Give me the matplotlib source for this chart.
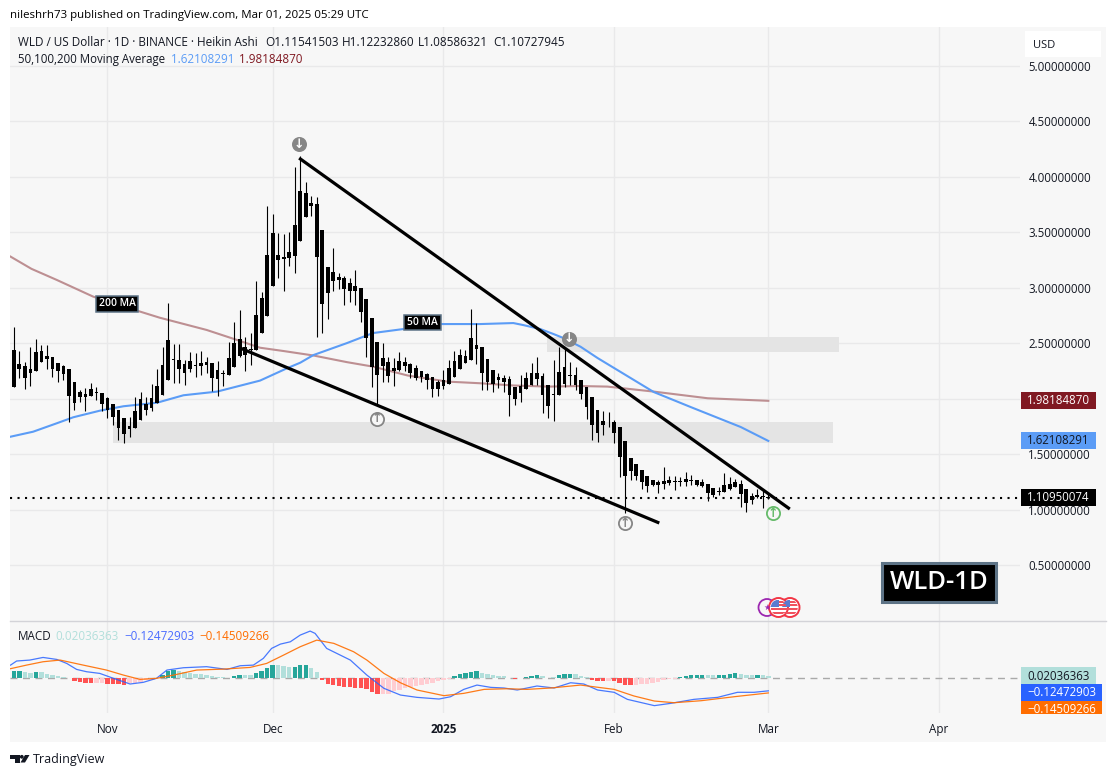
import numpy as np
import matplotlib
matplotlib.use('Agg')
import matplotlib.pyplot as plt
from matplotlib.patches import Rectangle, Circle, Polygon
from matplotlib.transforms import Affine2D

plt.rcParams['font.family'] = ['Open Sans', 'DejaVu Sans']

# days counted from 1 Nov 2024, first candle is 15 Oct
days = np.arange(-17, 121)

highs = [2.649,2.43,2.328,2.463,2.535,2.484,2.484,2.379,2.325,2.304,
         2.268,2.148,2.079,2.094,2.139,2.109,2.055,2.013,1.953,1.899,
         1.824,1.839,2.019,2.058,2.019,2.13,2.268,2.469,2.859,2.49,
         2.49,2.349,2.418,2.409,2.43,2.379,2.319,2.34,2.259,2.508,
         2.688,2.799,2.553,2.589,3.06,2.958,3.735,3.663,3.489,3.483,
         3.504,4.083,4.185,3.954,3.825,3.819,3.519,3.189,3.36,3.129,
         3.108,3.084,3.159,2.994,2.898,2.724,2.511,2.499,2.379,2.364,
         2.418,2.379,2.319,2.304,2.247,2.229,2.193,2.169,2.259,2.349,
         2.433,2.445,2.439,2.808,2.685,2.463,2.355,2.259,2.229,2.214,
         2.208,2.109,2.214,2.244,2.319,2.373,2.229,2.124,2.349,2.463,
         2.454,2.328,2.289,2.169,2.109,2.013,1.899,1.89,1.878,1.809,
         1.743,1.62,1.467,1.41,1.359,1.308,1.269,1.269,1.389,1.305,
         1.308,1.293,1.344,1.314,1.269,1.278,1.233,1.194,1.209,1.329,
         1.293,1.278,1.269,1.185,1.149,1.188,1.179,1.149]
tops = [2.439,2.31,2.295,2.268,2.418,2.43,2.385,2.373,2.322,2.295,
        2.268,2.148,2.061,2.043,2.088,2.061,2.049,2.007,1.953,1.899,
        1.824,1.755,1.89,1.998,1.953,2.004,2.115,2.304,2.529,2.358,
        2.349,2.313,2.34,2.304,2.319,2.328,2.319,2.259,2.229,2.364,
        2.499,2.535,2.463,2.445,2.754,2.907,3.294,3.489,3.294,3.279,
        3.321,3.564,3.87,3.849,3.759,3.753,3.519,3.189,3.138,3.099,
        3.084,3.039,3.015,2.994,2.898,2.724,2.511,2.364,2.328,2.277,
        2.34,2.334,2.313,2.277,2.247,2.223,2.193,2.154,2.169,2.277,
        2.343,2.394,2.385,2.547,2.484,2.463,2.355,2.259,2.199,2.19,
        2.178,2.109,2.115,2.184,2.229,2.229,2.205,2.124,2.043,2.238,
        2.283,2.214,2.211,2.169,2.109,2.013,1.899,1.8,1.794,1.794,
        1.743,1.62,1.467,1.41,1.359,1.308,1.269,1.248,1.26,1.269,
        1.26,1.263,1.278,1.269,1.266,1.254,1.233,1.194,1.167,1.224,
        1.233,1.254,1.233,1.185,1.125,1.134,1.125,1.119]
bottoms = [2.109,2.268,2.19,2.235,2.253,2.334,2.358,2.271,2.253,2.223,
           2.028,1.965,2.019,2.019,2.028,2.055,1.953,1.899,1.839,1.74,
           1.68,1.731,1.74,1.812,1.899,1.92,1.965,2.034,2.169,2.349,
           2.268,2.235,2.268,2.298,2.298,2.307,2.19,2.175,2.22,2.214,
           2.289,2.385,2.394,2.439,2.439,2.595,2.748,3.018,3.249,3.255,
           3.264,3.288,3.423,3.639,3.738,3.279,2.85,2.955,3.063,3.069,
           2.985,2.973,2.973,2.784,2.55,2.289,2.214,2.298,2.208,2.253,
           2.259,2.295,2.235,2.184,2.199,2.169,2.088,2.088,2.118,2.133,
           2.199,2.271,2.325,2.349,2.451,2.235,2.154,2.133,2.169,2.151,
           2.037,2.001,2.055,2.085,2.124,2.178,2.034,1.938,2.037,2.034,
           2.13,2.208,2.124,2.043,1.923,1.764,1.695,1.764,1.788,1.695,
           1.479,1.308,1.353,1.308,1.254,1.215,1.224,1.224,1.233,1.239,
           1.254,1.254,1.248,1.263,1.224,1.218,1.155,1.134,1.161,1.164,
           1.188,1.209,1.143,1.059,1.089,1.113,1.119,1.11]
lows = [2.109,2.184,2.091,2.118,2.253,2.334,2.268,2.199,2.154,2.169,
        1.794,1.899,1.974,1.89,2.028,1.989,1.89,1.83,1.764,1.629,
        1.599,1.659,1.74,1.812,1.854,1.89,1.965,2.034,2.169,2.139,
        2.139,2.124,2.244,2.199,2.214,2.229,2.07,2.028,2.118,2.214,
        2.289,2.379,2.253,2.304,2.439,2.595,2.748,3.018,3.084,2.973,
        3.195,3.135,3.423,3.639,3.645,2.559,2.589,2.718,2.973,2.988,
        2.844,2.874,2.844,2.694,2.379,2.109,1.944,2.154,2.148,2.118,
        2.253,2.253,2.184,2.169,2.154,2.088,2.019,2.028,2.088,2.133,
        2.199,2.271,2.325,2.349,2.313,2.079,2.079,2.064,2.094,2.064,
        1.848,1.944,1.974,2.085,2.124,2.124,1.869,1.83,1.803,2.034,
        2.109,2.124,2.079,1.995,1.818,1.629,1.614,1.674,1.749,1.605,
        1.299,0.975,1.269,1.269,1.188,1.164,1.218,1.155,1.185,1.224,
        1.179,1.218,1.218,1.224,1.215,1.209,1.083,1.119,1.134,1.164,
        1.179,1.203,1.029,0.984,1.053,1.104,1.02,1.095]

ma50_days = [-17.6,-13.5,-9.2,-6.2,-1.4,2.9,9,13.8,19.9,27.7,32.6,35,37.4,43.5,48.2,53.7,
             60.5,67.7,73.7,75.5,78.6,81,82.8,85.9,89,93.2,99.2,105.9,115,120]
ma50 = [1.659,1.704,1.78,1.834,1.893,1.933,1.965,2.032,2.065,2.164,2.275,2.325,2.394,2.502,2.592,2.628,
        2.673,2.673,2.682,2.664,2.628,2.583,2.547,2.469,2.367,2.241,2.061,1.926,1.746,1.621]
ma200_days = [-17.6,-13.8,-9.2,-2.6,5.6,9.5,18,22.9,27.7,32,37.4,43.5,48.2,54.5,61.7,67.7,
              73.7,80,85.9,90.8,99.2,109,120]
ma200 = [3.28,3.17,3.07,2.92,2.79,2.73,2.62,2.54,2.46,2.43,2.39,2.33,2.29,2.21,2.155,2.14,
         2.12,2.11,2.115,2.11,2.065,2.005,1.982]

macd_days = [-17.6,-16.5,-14.1,-11.7,-9.2,-7.4,-5.6,-3.8,-1.4,1.1,4.1,6.5,8.9,10.8,13.8,18,21.7,
             24.1,26.5,28.3,29.8,31.4,33.2,35,36.8,37.7,39.8,44.1,47.1,50.2,53.2,56.2,60.2,62.3,
             64.7,67.1,69.6,72,74.4,78,81.1,84.1,86.5,89,92,94.4,99.3,102.3,106.5,110.8,114.4,117.4,120]
macd = [.12,.159,.168,.193,.174,.136,.079,.057,.041,-.006,-.06,-.044,-.006,.073,.095,.105,.079,
        .114,.12,.184,.279,.32,.342,.406,.444,.422,.279,.168,.025,-.101,-.165,-.187,-.203,-.181,
        -.111,-.07,-.092,-.098,-.117,-.079,-.098,-.048,-.06,-.117,-.139,-.206,-.266,-.244,-.206,-.187,-.139,-.139,-.125]
signal_days = [-17.6,-14.7,-11.7,-8.6,-4.4,-.2,2.9,5.9,8.9,12,16.2,21.1,25.9,28.9,32,35,38,41.1,
               44.7,47.1,50.2,53.2,56.2,61.1,64.7,68.4,72.6,76.2,80.5,85.9,92,95.6,99.3,102.9,107.8,113.8,120]
signal = [.086,.12,.152,.168,.12,.073,.025,-.016,-.006,.025,.073,.082,.098,.136,.216,.295,.358,.327,
          .247,.168,.041,-.048,-.117,-.171,-.149,-.111,-.105,-.111,-.098,-.07,-.111,-.174,-.222,-.238,-.219,-.181,-.145]
hist = [.063,.063,.054,.048,.057,.054,.038,.022,.013,.006,
        -.006,-.032,-.044,-.048,-.051,-.051,-.051,-.057,-.057,-.063,
        -.067,-.051,-.051,-.044,-.025,-.019,-.006,.025,.063,.076,
        .063,.054,.041,.032,.035,.029,.016,.006,.003,-.003,
        .013,.025,.025,.025,.048,.063,.089,.12,.12,.111,
        .101,.101,.12,.12,.095,.054,-.019,-.063,-.07,-.079,
        -.086,-.092,-.095,-.101,-.111,-.136,-.159,-.152,-.152,-.127,
        -.12,-.101,-.086,-.079,-.07,-.057,-.048,-.032,-.019,-.01,
        .016,.032,.044,.054,.063,.041,.032,.022,.016,.013,
        -.003,-.016,-.006,.006,.016,.025,.013,-.006,.003,.025,
        .035,.035,.032,.019,.003,-.022,-.032,-.032,-.032,-.035,
        -.051,-.067,-.067,-.067,-.063,-.06,-.051,-.038,-.025,-.016,
        -.01,.003,.013,.022,.025,.025,.022,.022,.022,.029,
        .035,.044,.032,.025,.025,.025,.022,.02]
hist_kind = ('DDLLDLLLLL' 'RRRRRPPRRR' 'RPPPPPPDDD' 'LLLLLLLLLR' 'DDLLDDDDLL'
             'LDDDLLRRRR' 'RRRRRRRPPP' 'PPPPPPPPPP' 'DDDDDLLLLL' 'RRPDDDLRLD'
             'DDLLLRRRPR' 'RRRPPPPPPP' 'PDDDDDLLDD' 'DDLLLDLL')
hist_colors = {'D': '#26a69a', 'L': '#b2dfdb', 'R': '#ff5252', 'P': '#ffcdd2'}

month_days = [0, 30, 61, 92, 120, 151]
month_names = ['Nov', 'Dec', '2025', 'Feb', 'Mar', 'Apr']
price_ticks = [0.5, 1, 1.5, 2, 2.5, 3, 3.5, 4, 4.5, 5]

last_price = 1.1095
upper_line_days, upper_line = [34.8, 123.9], [4.167, 1.008]
lower_line_days, lower_line = [24.1, 100.2], [2.457, 0.882]

W, H = 1116, 777
fig = plt.figure(figsize=(W / 100, H / 100), dpi=100, facecolor='white')
# top-left pixel coordinates for everything that sits outside the data
px = Affine2D().scale(1, -1).translate(0, H)


def box(x0, y0, x1, y1, color, z=5, **kw):
    r = Rectangle((x0, y0), x1 - x0, y1 - y0, transform=px, facecolor=color, zorder=z, **kw)
    fig.add_artist(r)
    return r


def label(x, y, s, color='#131722', size=8.4, ha='left', z=6, **kw):
    return fig.text(x, y + 1.5, s, transform=px, color=color, fontsize=size, ha=ha, va='center', zorder=z, **kw)


box(10, 27, 1106, 742, '#f7f7f7', z=-1, linewidth=0)

ax = fig.add_axes([10 / W, 1 - 621 / H, 1010 / W, 594 / H])
ax2 = fig.add_axes([10 / W, 1 - 713 / H, 1010 / W, 92 / H])
x0, x1 = -17.7, 165.7
for a in (ax, ax2):
    a.patch.set_visible(False)
    a.set_xlim(x0, x1)
    for s in a.spines.values():
        s.set_visible(False)
    a.set_xticks(month_days)
    a.grid(True, color='#e9e9ea', linewidth=1)
    a.set_axisbelow(True)
    a.tick_params(length=0)
    a.yaxis.tick_right()

ax.set_ylim(0, 5.347)
ax.set_yticks(price_ticks)
# the 2.0 label sits fully behind the 200 MA tag
ax.set_yticklabels(['' if v == 2 else '%.8f' % v for v in price_ticks], fontsize=8.3, color='#131722')
ax.tick_params(axis='y', pad=6)
ax.tick_params(axis='x', labelbottom=False)

ax.axhspan(1.6, 1.788, xmin=(0.94 - x0) / (x1 - x0), xmax=(131.7 - x0) / (x1 - x0), color='#e4e4e4', linewidth=0, zorder=1)
ax.axhspan(2.418, 2.553, xmin=(79.9 - x0) / (x1 - x0), xmax=(132.8 - x0) / (x1 - x0), color='#e4e4e4', linewidth=0, zorder=1)

ax.plot(ma200_days, ma200, color='#bd8f92', linewidth=1.5, zorder=2)
ax.plot(ma50_days, ma50, color='#5b9cf6', linewidth=1.5, zorder=2)

ax.vlines(days, lows, highs, color='black', linewidth=0.8, zorder=3)
ax.bar(days, np.array(tops) - np.array(bottoms), bottom=bottoms, width=0.68, color='black', linewidth=0, zorder=3)

ax.plot(upper_line_days, upper_line, color='black', linewidth=2.3, zorder=4, solid_capstyle='butt')
ax.plot(lower_line_days, lower_line, color='black', linewidth=2.3, zorder=4, solid_capstyle='butt')
ax.axhline(last_price, color='black', linewidth=1.5, linestyle=(0, (1, 2.6)), zorder=4)

# pivot markers: day, price, filled or ring, colour, arrow
pivots = [(34.8, 4.29, True, '#868686', '↓'), (83.8, 2.54, True, '#868686', '↓'),
          (48.9, 1.82, False, '#868686', '↑'), (94, 0.882, False, '#868686', '↑'),
          (120.8, 0.97, False, '#66bb6a', '↑')]
for d, v, filled, col, arrow in pivots:
    ax.plot(d, v, 'o', markersize=9.5, markeredgewidth=1.3, markeredgecolor=col,
            markerfacecolor=col if filled else '#f7f7f7', zorder=5)
    ax.text(d, v, arrow, ha='center', va='center', fontsize=9, fontweight='bold',
            family='DejaVu Sans', color='white' if filled else col, zorder=6)

ax2.set_ylim(-0.336, 0.54)
ax2.set_yticks([])
ax2.bar(days, hist, width=0.8, color=[hist_colors[k] for k in hist_kind], linewidth=0, zorder=2)
ax2.axhline(0, color='#a9a9a9', linewidth=1, linestyle=(0, (5, 4)), zorder=1)
ax2.plot(macd_days, macd, color='#2962ff', linewidth=0.9, alpha=0.85, zorder=3)
ax2.plot(signal_days, signal, color='#ff6d00', linewidth=0.9, alpha=0.9, zorder=3)
ax2.set_xticklabels(month_names, fontsize=8.4, color='#131722')
ax2.tick_params(axis='x', pad=7)
ax2.get_xticklabels()[2].set_fontweight('bold')

# pane separator
fig.add_artist(plt.Line2D([10, 1106], [621, 621], transform=px, color='#d3d3d8', linewidth=1, zorder=2))

# header and legends
label(10, 14, 'nileshrh73 published on TradingView.com, Mar 01, 2025 05:29 UTC', color='black', size=8.27)
label(18, 41, 'WLD / US Dollar · 1D · BINANCE · Heikin Ashi', size=8.45)
for x, s in [(265, 'O1.11541503'), (342, 'H1.12232860'), (418, 'L1.08586321'), (493, 'C1.10727945')]:
    label(x, 41, s, size=8.5)
label(18, 58, '50,100,200 Moving Average', size=8.3)
label(171, 58, '1.62108291', color='#5b9cf6', size=8.4)
label(239, 58, '1.98184870', color='#801922', size=8.4)
label(18, 635.5, 'MACD', size=8.4)
label(55, 635.5, '0.02036363', color='#b2dfdb', size=8.4)
label(124, 635.5, '−0.12472903', color='#4a6cff', size=8.4)
label(199, 635.5, '−0.14509266', color='#ff6d00', size=8.4)

# USD button
box(1025, 31, 1101, 57, 'white', z=5, linewidth=0)
label(1033, 44, 'USD', size=8.0)

# last value tags
tags = [(392, 408.7, 1096, '#801922', 'white', '1.98184870'),
        (432, 448.7, 1096, '#5b9cf6', '#131722', '1.62108291'),
        (489, 505.7, 1096, 'black', 'white', '1.10950074'),
        (667.3, 684, 1096, '#b2dfdb', '#131722', '0.02036363'),
        (684, 700.7, 1102, '#2962ff', 'white', '−0.12472903'),
        (701, 714, 1102, '#ff6d00', 'white', '−0.14509266')]
for y0, y1, xr, bg, fg, s in tags:
    r = box(1021, y0, xr, y1, bg, linewidth=0)
    t = label(1089.5 if xr == 1096 else 1096, (y0 + 7.3), s, color=fg, size=8.3, ha='right')
    t.set_clip_path(r)

# drawn-on tags
for x0_, y0_, x1_, y1_, s, fs, lw in [(96, 296, 138, 311.5, '200 MA', 7.4, 1.1),
                                      (404, 314.5, 440.5, 330, '50 MA', 7.4, 1.1),
                                      (882, 563, 996, 602, 'WLD-1D', 18.5, 2.2)]:
    box(x0_, y0_, x1_, y1_, 'black', z=7, edgecolor='#5d7386', linewidth=lw)
    label((x0_ + x1_) / 2, (y0_ + y1_) / 2 - 1.5, s, color='white', size=fs, ha='center', z=8, fontweight='semibold')

# economic event icons
fig.add_artist(Circle((767, 607.5), 8.5, transform=px, facecolor='#f7f7f7', edgecolor='#9c27b0', linewidth=1.3, zorder=5))
label(767, 606, '★', color='#9c27b0', size=6, ha='center', family='DejaVu Sans')
for cx in (790, 778.5):
    ring = Circle((cx, 607.5), 9.5, transform=px, facecolor='white', edgecolor='#f23645', linewidth=1.4, zorder=6)
    fig.add_artist(ring)
    clip = Circle((cx, 607.5), 7.8, transform=px)
    b = box(cx - 8, 600, cx, 607, '#5b7bd0', z=7, linewidth=0)
    b.set_clip_path(clip)
    for yy in (601, 604, 608, 612):
        s = box(cx - 8 if yy > 607 else cx, yy, cx + 8, yy + 2, '#f0525e', z=7, linewidth=0)
        s.set_clip_path(clip)

# logo and name
fig.add_artist(Polygon([(10, 755), (19.5, 755), (19.5, 762.5), (15, 762.5), (15, 758.5), (10, 758.5)],
                       transform=px, facecolor='#131722', linewidth=0))
fig.add_artist(Circle((21.8, 756.8), 1.9, transform=px, facecolor='#131722', linewidth=0))
fig.add_artist(Polygon([(25, 755), (29.5, 755), (25, 762.5), (20.5, 762.5)], transform=px, facecolor='#131722', linewidth=0))
label(33, 758.5, 'TradingView', size=9.0)

fig.savefig('out.png', dpi=100)
